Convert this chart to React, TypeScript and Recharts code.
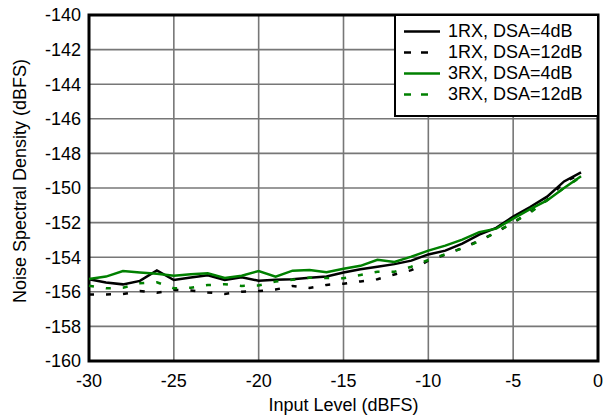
import React from 'react';
import { LineChart, Line, XAxis, YAxis, CartesianGrid, ReferenceArea, Legend } from 'recharts';

const inputLevel = [-30, -29, -28, -27, -26, -25, -24, -23, -22, -21, -20, -19, -18, -17, -16, -15, -14, -13, -12, -11, -10, -9, -8, -7, -6, -5, -4, -3, -2, -1];
const rx1Dsa4 = [-155.27, -155.46, -155.57, -155.37, -154.76, -155.32, -155.17, -155.05, -155.32, -155.16, -155.36, -155.3, -155.27, -155.19, -155.12, -154.88, -154.7, -154.55, -154.4, -154.2, -153.84, -153.62, -153.21, -152.7, -152.3, -151.65, -151.1, -150.5, -149.62, -149.1];
const rx1Dsa12 = [-156.15, -156.15, -156.13, -155.96, -156.06, -155.89, -155.93, -156.04, -156.12, -155.99, -155.96, -155.87, -155.66, -155.78, -155.6, -155.53, -155.4, -155.27, -155.0, -154.75, -154.2, -153.85, -153.47, -153.05, -152.56, -152.0, -151.38, -150.7, -149.65, -149.2];
const rx3Dsa4 = [-155.26, -155.12, -154.8, -154.88, -154.95, -155.07, -154.98, -154.93, -155.2, -155.07, -154.8, -155.13, -154.78, -154.74, -154.87, -154.67, -154.5, -154.15, -154.27, -153.97, -153.62, -153.33, -152.98, -152.55, -152.35, -151.77, -151.22, -150.72, -150.0, -149.32];
const rx3Dsa12 = [-155.65, -155.8, -155.76, -155.51, -155.45, -155.8, -155.76, -155.61, -155.56, -155.66, -155.63, -155.41, -155.31, -155.18, -155.2, -155.22, -155.03, -154.84, -154.84, -154.55, -154.16, -153.83, -153.49, -153.08, -152.56, -151.98, -151.43, -150.7, -150.0, -149.35];

const xTicks = [-30, -25, -20, -15, -10, -5, 0];
const yTicks = [-160, -158, -156, -154, -152, -150, -148, -146, -144, -142, -140];

const seriesInfo = [
  { key: 'a', name: '1RX, DSA=4dB', color: '#000000', dashed: false },
  { key: 'b', name: '1RX, DSA=12dB', color: '#000000', dashed: true },
  { key: 'c', name: '3RX, DSA=4dB', color: '#008000', dashed: false },
  { key: 'd', name: '3RX, DSA=12dB', color: '#008000', dashed: true },
];

const data = inputLevel.map((x, i) => ({ x, a: rx1Dsa4[i], b: rx1Dsa12[i], c: rx3Dsa4[i], d: rx3Dsa12[i] }));

const FONT = '"Liberation Sans", Arial, sans-serif';

const LegendBox = () => (
  <div style={{ border: '2px solid #000', background: '#fff', width: 201, height: 94, boxSizing: 'content-box', paddingTop: 5, fontFamily: FONT, fontSize: 18, color: '#000' }}>
    {seriesInfo.map((s) => (
      <div key={s.key} style={{ display: 'flex', alignItems: 'center', height: 21, lineHeight: '21px' }}>
        <svg width={52} height={21} style={{ display: 'block' }}>
          {s.dashed ? (
            <line x1={8} y1={10.5} x2={32} y2={10.5} stroke={s.color} strokeWidth={2.5} strokeDasharray="7 10" />
          ) : (
            <line x1={8} y1={10.5} x2={44} y2={10.5} stroke={s.color} strokeWidth={2.5} />
          )}
        </svg>
        <span style={{ whiteSpace: 'nowrap' }}>{s.name}</span>
      </div>
    ))}
  </div>
);

export default function App() {
  return (
    <div style={{ position: 'absolute', left: 0, top: 0, width: 610, height: 416, background: '#fff' }}>
      <LineChart width={610} height={416} data={data} margin={{ top: 15, right: 12, left: 0, bottom: 0 }}>
        <CartesianGrid stroke="#777" strokeWidth={1.6} verticalValues={xTicks} horizontalValues={yTicks} />
        <XAxis
          dataKey="x"
          type="number"
          domain={[-30, 0]}
          ticks={xTicks}
          height={55}
          tickLine={false}
          tickSize={0}
          tickMargin={13}
          axisLine={false}
          tick={{ fontSize: 18, fill: '#000', fontFamily: FONT }}
          label={{
            content: (props: any) => {
              const vb = props.viewBox || { x: 89, y: 361, width: 509 };
              return (
                <text x={vb.x + vb.width / 2} y={411} textAnchor="middle" fontSize={18} fontFamily={FONT} fill="#000">
                  Input Level (dBFS)
                </text>
              );
            },
          }}
        />
        <YAxis
          type="number"
          domain={[-160, -140]}
          ticks={yTicks}
          width={89}
          tickLine={false}
          tickSize={0}
          tickMargin={8}
          axisLine={false}
          interval={0}
          tick={{ fontSize: 18, fill: '#000', fontFamily: FONT }}
          label={{
            content: () => (
              <text x={26} y={181} transform="rotate(-90 26 181)" textAnchor="middle" fontSize={18} fontFamily={FONT} fill="#000">
                Noise Spectral Density (dBFS)
              </text>
            ),
          }}
        />
        {seriesInfo.map((s) => (
          <Line
            key={s.key}
            dataKey={s.key}
            name={s.name}
            stroke={s.color}
            strokeWidth={2.5}
            strokeDasharray={s.dashed ? '5 12' : undefined}
            dot={false}
            activeDot={false}
            isAnimationActive={false}
            type="linear"
          />
        ))}
        <ReferenceArea x1={-30} x2={0} y1={-160} y2={-140} fill="none" fillOpacity={0} stroke="#000" strokeWidth={3} ifOverflow="visible" />
        <Legend
          layout="vertical"
          align="center"
          verticalAlign="middle"
          content={() => <LegendBox />}
          wrapperStyle={{ position: 'absolute', left: 394, top: 14, width: 205, height: 103, right: 'auto', bottom: 'auto', margin: 0 }}
        />
      </LineChart>
    </div>
  );
}
